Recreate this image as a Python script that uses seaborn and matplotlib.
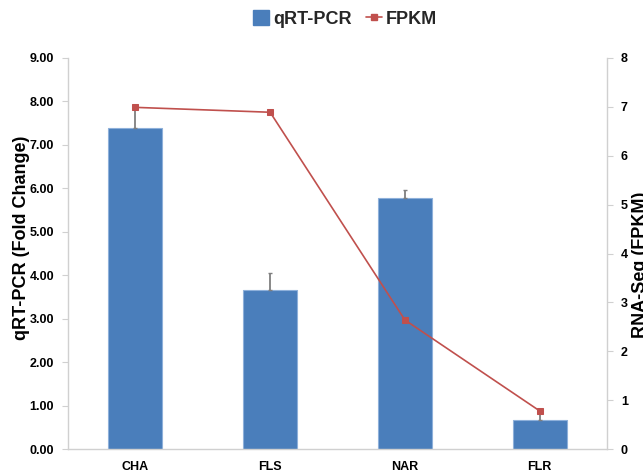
import matplotlib
matplotlib.use("Agg")
import matplotlib.pyplot as plt
from matplotlib.lines import Line2D
from matplotlib.patches import Patch
from matplotlib.ticker import FixedLocator, FormatStrFormatter
import numpy as np
import pandas as pd
import seaborn as sns

# Gene expression: qRT-PCR fold change vs RNA-Seq FPKM
categories = ["CHA", "FLS", "NAR", "FLR"]
qpcr_fold = [7.40, 3.66, 5.78, 0.66]
qpcr_err = [0.47, 0.39, 0.19, 0.22]
fpkm = [6.99, 6.89, 2.64, 0.78]

sns.set_theme(style="white")
plt.rcParams["font.family"] = ["Liberation Sans", "DejaVu Sans"]
plt.rcParams["font.weight"] = "bold"

BAR_BLUE = "#4A7EBB"
LINE_RED = "#C0504D"
AXIS_GRAY = "#D0D0D0"

df = pd.DataFrame({"gene": categories, "fold": qpcr_fold, "err": qpcr_err, "fpkm": fpkm})

fig = plt.figure(figsize=(6.43, 4.75), dpi=100)
ax = fig.add_axes([68 / 643, 1 - 449 / 475, (607 - 68) / 643, (449 - 58) / 475])

sns.barplot(data=df, x="gene", y="fold", color=BAR_BLUE, width=0.40,
            edgecolor="#8EB0DA", linewidth=0.8, saturation=1, ax=ax, zorder=2)

# upper-only error bars
xpos = np.arange(len(categories))
ax.errorbar(xpos, df["fold"], yerr=[np.zeros(len(categories)), df["err"]],
            fmt="none", ecolor="#7F7F7F", elinewidth=1.3, capsize=1.5, capthick=1,
            zorder=3)

ax.set_xlim(-0.5, 3.5)
ax.set_ylim(0, 9)
ax.set_yticks(np.arange(0, 9.01, 1))
ax.yaxis.set_major_formatter(FormatStrFormatter("%.2f"))
ax.set_xlabel("")
ax.set_ylabel("qRT-PCR (Fold Change)", fontsize=13, fontweight="bold", color="#000000")
ax.yaxis.set_label_coords(-0.07, 0.54)

ax.xaxis.set_minor_locator(FixedLocator(np.arange(-0.5, 3.51, 1)))
ax.tick_params(axis="x", which="major", length=0, pad=9, labelsize=9, colors="#000000")
ax.tick_params(axis="x", which="minor", length=4, width=0.8, color=AXIS_GRAY, direction="out")
ax.tick_params(axis="y", which="major", left=True, length=4, width=0.8, color=AXIS_GRAY,
               direction="out", labelsize=9, labelcolor="#000000", pad=6)
for lbl in ax.get_xticklabels() + ax.get_yticklabels():
    lbl.set_fontweight("bold")

for side in ["top", "right"]:
    ax.spines[side].set_visible(False)
for side in ["left", "bottom"]:
    ax.spines[side].set_color(AXIS_GRAY)
    ax.spines[side].set_linewidth(1.0)

# FPKM on secondary axis
ax2 = ax.twinx()
sns.lineplot(data=df, x="gene", y="fpkm", color=LINE_RED, linewidth=1.2, marker="s",
             markersize=4.5, markeredgecolor=LINE_RED, ax=ax2, zorder=4, sort=False)
ax2.set_ylim(0, 8)
ax2.set_yticks(np.arange(0, 8.01, 1))
ax2.set_ylabel("RNA-Seq (FPKM)", fontsize=13, fontweight="bold", color="#000000",
               rotation=90)
ax2.yaxis.set_label_coords(1.046, 0.47)
ax2.tick_params(axis="y", right=True, length=4, width=0.8, color=AXIS_GRAY,
                direction="out", labelsize=9, labelcolor="#000000", pad=6)
for lbl in ax2.get_yticklabels():
    lbl.set_fontweight("bold")
for side in ["top", "left", "bottom"]:
    ax2.spines[side].set_visible(False)
ax2.spines["right"].set_color(AXIS_GRAY)
ax2.spines["right"].set_linewidth(1.0)
ax2.set_xlim(-0.5, 3.5)

handles = [
    Patch(facecolor=BAR_BLUE, edgecolor=BAR_BLUE),
    Line2D([0], [0], color=LINE_RED, linewidth=1.2, marker="s", markersize=4),
]
fig.legend(handles, ["qRT-PCR", "FPKM"], loc="center", bbox_to_anchor=(345 / 643, 1 - 19 / 475),
           ncol=2, frameon=False, prop={"size": 13, "weight": "bold"},
           handlelength=0.9, handletextpad=0.2, columnspacing=0.8, handleheight=0.9)

fig.savefig("out.png", dpi=100)
